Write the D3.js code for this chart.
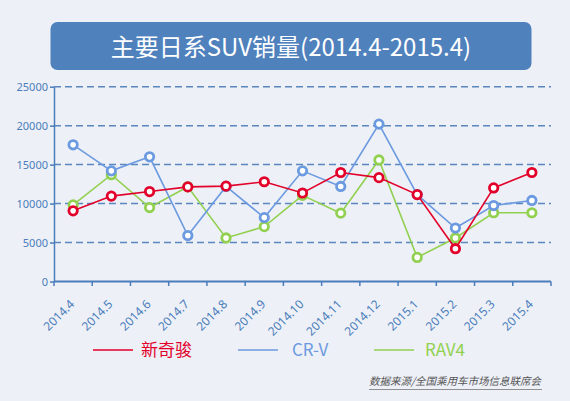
<!DOCTYPE html>
<html>
<head>
<meta charset="utf-8">
<title>主要日系SUV销量</title>
<script src="https://d3js.org/d3.v7.min.js"></script>
<style>
  body { margin: 0; background: #edf0f7; }
  svg { display: block; }
</style>
</head>
<body>
<script>
// data
const months = ["2014.4", "2014.5", "2014.6", "2014.7", "2014.8", "2014.9", "2014.10",
                "2014.11", "2014.12", "2015.1", "2015.2", "2015.3", "2015.4"];
const xtrail = [9070, 10960, 11540, 12140, 12240, 12800, 11360, 13990, 13330, 11150, 4210, 12010, 13990];
const crv    = [17540, 14200, 16000, 5900, 12200, 8200, 14200, 12200, 20200, 11150, 6860, 9750, 10400];
const rav4   = [9830, 13710, 9490, 12150, 5590, 7040, 11050, 8770, 15600, 3090, 5590, 8820, 8820];
const yTicks = [0, 5000, 10000, 15000, 20000, 25000];

const w = 570, h = 401;
const plotLeft = 54, plotRight = 551, plotTop = 86.7, plotBottom = 281.5;

const svg = d3.select("body").append("svg").attr("width", w).attr("height", h);

// title box
svg.append("rect")
    .attr("x", 50.5).attr("y", 22).attr("width", 481).attr("height", 48)
    .attr("rx", 7).attr("fill", "#4f81bd");
svg.append("text")
    .attr("x", 291).attr("y", 56)
    .attr("text-anchor", "middle")
    .attr("fill", "#fff")
    .style("font-family", "'Noto Sans CJK SC', sans-serif")
    .style("font-size", "24px")
    .text("主要日系SUV销量(2014.4-2015.4)");

const x = d3.scaleBand().domain(months).range([plotLeft, plotRight]).padding(0);
const y = d3.scaleLinear().domain([0, 25000]).range([plotBottom, plotTop]);
const cx = d => x(d) + x.bandwidth() / 2;

// gridlines
svg.append("g").selectAll("line")
    .data(yTicks.filter(d => d > 0)).enter().append("line")
    .attr("x1", plotLeft).attr("x2", plotRight)
    .attr("y1", d => y(d)).attr("y2", d => y(d))
    .attr("stroke", "#5b86c0").attr("stroke-width", 1.5)
    .attr("stroke-dasharray", "7,4");

// y axis
const yAxis = svg.append("g")
    .attr("transform", "translate(" + plotLeft + ",0)")
    .call(d3.axisLeft(y).tickValues(yTicks).tickFormat(d3.format("d"))
      .tickSize(4).tickPadding(2).tickSizeOuter(0));
yAxis.select(".domain").attr("stroke", "#4a7dbb").attr("stroke-width", 1.5);
yAxis.selectAll(".tick line").attr("stroke", "#4a7dbb").attr("stroke-width", 1.5);
yAxis.selectAll("text")
    .attr("fill", "#4a7dbb")
    .style("font-family", "'Noto Sans', sans-serif")
    .style("font-size", "11px");

// x axis
svg.append("line")
    .attr("x1", plotLeft).attr("x2", plotRight).attr("y1", plotBottom).attr("y2", plotBottom)
    .attr("stroke", "#4a7dbb").attr("stroke-width", 2);
svg.append("g").selectAll("line")
    .data(months.map(m => x(m)).concat([plotRight])).enter().append("line")
    .attr("x1", d => d).attr("x2", d => d)
    .attr("y1", plotBottom).attr("y2", plotBottom + 4.5)
    .attr("stroke", "#4a7dbb").attr("stroke-width", 1.5);
svg.append("g").selectAll("text")
    .data(months).enter().append("text")
    .attr("transform", d => "translate(" + (cx(d) + 2) + "," + 305 + ") rotate(-45)")
    .attr("text-anchor", "end")
    .attr("fill", "#4a7dbb")
    .style("font-family", "'Noto Sans', sans-serif")
    .style("font-size", "12px")
    .text(d => d);

// series, drawn green, blue, red so red sits on top
const series = [
  { name: "RAV4", values: rav4, color: "#92d050", lx: 374, tx: 425 },
  { name: "CR-V", values: crv, color: "#6b9ae0", lx: 238, tx: 292 },
  { name: "新奇骏", values: xtrail, color: "#e2002b", lx: 93, tx: 141 }
];

const line = d3.line().x((d, i) => cx(months[i])).y(d => y(d));

series.forEach(s => {
  const g = svg.append("g");
  g.append("path")
      .attr("d", line(s.values))
      .attr("fill", "none")
      .attr("stroke", s.color)
      .attr("stroke-width", 1.6);
  g.selectAll("circle")
      .data(s.values).enter().append("circle")
      .attr("cx", (d, i) => cx(months[i]))
      .attr("cy", d => y(d))
      .attr("r", 4.2)
      .attr("fill", "#fff")
      .attr("stroke", s.color)
      .attr("stroke-width", 2.8);
});

// legend
series.forEach(s => {
  svg.append("line")
      .attr("x1", s.lx).attr("x2", s.lx + 40)
      .attr("y1", 350).attr("y2", 350)
      .attr("stroke", s.color).attr("stroke-width", 1.6);
  svg.append("text")
      .attr("x", s.tx).attr("y", 356)
      .attr("fill", s.color)
      .style("font-family", "'Noto Sans CJK SC', sans-serif")
      .style("font-size", "17px")
      .text(s.name);
});

// source note
svg.append("text")
    .attr("x", 369).attr("y", 385)
    .attr("fill", "#555")
    .style("font-family", "'Noto Sans CJK SC', sans-serif")
    .style("font-size", "10.5px")
    .style("font-style", "italic")
    .text("数据来源/全国乘用车市场信息联席会");
svg.append("line")
    .attr("x1", 369).attr("x2", 542).attr("y1", 389.5).attr("y2", 389.5)
    .attr("stroke", "#777").attr("stroke-width", 0.8);
</script>
</body>
</html>
